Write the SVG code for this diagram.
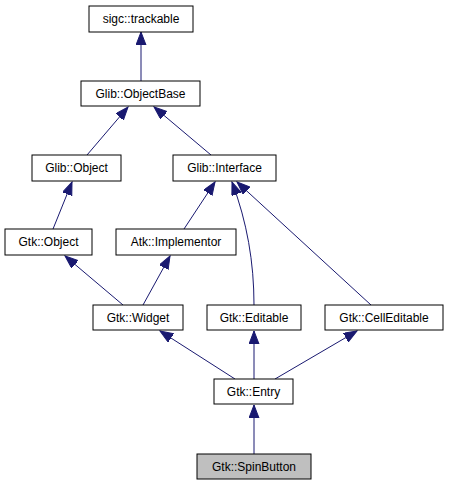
<svg xmlns="http://www.w3.org/2000/svg" width="449" height="485" viewBox="0 0 449 485">
<style>
.n rect{fill:#ffffff;stroke:#000000;stroke-width:1}
.n text{font-family:"Liberation Sans",Arial,sans-serif;font-size:12px;text-anchor:middle;fill:#000000}
#edges path{fill:none;stroke:#191970;stroke-width:1;marker-end:url(#ah)}
</style>
<defs>
<marker id="ah" markerUnits="userSpaceOnUse" markerWidth="14" markerHeight="11" refX="13" refY="5" orient="auto">
<path d="M0,0 L13,5 L0,10 z" fill="#191970" stroke="#191970" stroke-width="1"/>
</marker>
</defs>
<rect width="449" height="485" fill="#ffffff"/>
<g id="edges">
<path d="M141,81 L141,32"/>
<path d="M87,155 L128,107"/>
<path d="M211,155 L154,107"/>
<path d="M53,229 L72,182"/>
<path d="M184,229 L215,182"/>
<path d="M254,305 C254,262 247,222 232,182"/>
<path d="M371,305 L237,182"/>
<path d="M123,305 L65,256"/>
<path d="M143,305 L170,256"/>
<path d="M235,379 L160,331"/>
<path d="M254,379 L254,331"/>
<path d="M275,379 L357,331"/>
<path d="M254,454 L254,405"/>
</g>
<g id="trackable" class="n"><rect x="89" y="6" width="104" height="26"/><text x="141" y="23">sigc::trackable</text></g>
<g id="objectbase" class="n"><rect x="81" y="81" width="119" height="25"/><text x="140.5" y="97.5">Glib::ObjectBase</text></g>
<g id="glibobject" class="n"><rect x="32" y="155" width="89" height="26"/><text x="76.5" y="172">Glib::Object</text></g>
<g id="interface" class="n"><rect x="173" y="155" width="103" height="26"/><text x="224.5" y="172">Glib::Interface</text></g>
<g id="gtkobject" class="n"><rect x="5" y="229" width="87" height="26"/><text x="48.5" y="246">Gtk::Object</text></g>
<g id="implementor" class="n"><rect x="116" y="229" width="120" height="26"/><text x="176" y="246">Atk::Implementor</text></g>
<g id="widget" class="n"><rect x="93" y="305" width="90" height="25"/><text x="138" y="321.5">Gtk::Widget</text></g>
<g id="editable" class="n"><rect x="207" y="305" width="94" height="25"/><text x="254" y="321.5">Gtk::Editable</text></g>
<g id="celleditable" class="n"><rect x="325" y="305" width="118" height="25"/><text x="384" y="321.5">Gtk::CellEditable</text></g>
<g id="entry" class="n"><rect x="214" y="379" width="79" height="25"/><text x="253.5" y="395.5">Gtk::Entry</text></g>
<g id="spinbutton" class="n"><rect x="197" y="454" width="114" height="25" style="fill:#bfbfbf"/><text x="254" y="470.5">Gtk::SpinButton</text></g>
</svg>
